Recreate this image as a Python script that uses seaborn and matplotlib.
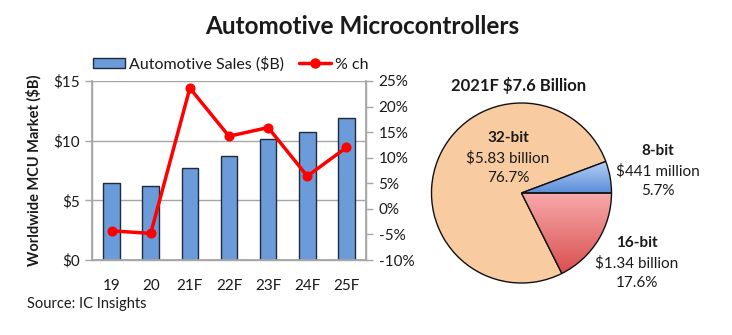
import matplotlib
matplotlib.use("Agg")
import matplotlib.pyplot as plt
import numpy as np
import pandas as pd
import seaborn as sns
from matplotlib.lines import Line2D
from matplotlib.patches import Patch

# ---- data ----
years = ["19", "20", "21F", "22F", "23F", "24F", "25F"]
sales_b = [6.48, 6.2, 7.68, 8.74, 10.1, 10.76, 11.93]
pct_change = [-4.3, -4.8, 23.6, 14.2, 15.9, 6.4, 12.0]

pie_labels = ["8-bit", "32-bit", "16-bit"]
pie_shares = [5.7, 76.7, 17.6]
pie_amounts = ["$441 million", "$5.83 billion", "$1.34 billion"]

left_ticks = [0, 5, 10, 15]
left_tick_labels = ["$0", "$5", "$10", "$15"]
right_ticks = [-10, -5, 0, 5, 10, 15, 20, 25]
right_tick_labels = ["-10%", "-5%", "0%", "5%", "10%", "15%", "20%", "25%"]

sns.set_theme(style="white")
plt.rcParams["font.family"] = ["Lato", "DejaVu Sans"]

W, H = 732, 335
fig = plt.figure(figsize=(W / 100, H / 100), dpi=100)
fig.patch.set_facecolor("white")

def fx(x):
    return x / W

def fy(y):
    return 1 - y / H

TXT = "#1a1a1a"
GRID = "#a6a6a6"

# ---- bar + line chart ----
ax = fig.add_axes([fx(92), fy(260), fx(366) - fx(92), fy(81) - fy(260)])
df = pd.DataFrame({"year": years, "sales": sales_b, "pct": pct_change})
sns.barplot(data=df, x="year", y="sales", ax=ax, color="#6b9bd8",
            edgecolor="#1f2a3a", linewidth=1.0, width=0.42, saturation=1)
ax.set_xlim(-0.5, 6.5)
ax.set_ylim(0, 15)
ax.set_yticks(left_ticks)
ax.set_yticklabels(left_tick_labels, fontsize=11, color=TXT)
ax.set_xticks(range(len(years)))
ax.set_xticklabels(years, fontsize=11, color=TXT)
ax.tick_params(axis="x", length=0, pad=14)
ax.tick_params(axis="y", length=5, color=GRID, width=1, direction="out", pad=4)
ax.set_xticks(np.arange(-0.5, 7.0, 1.0), minor=True)
ax.tick_params(axis="x", which="minor", length=4, color=GRID, width=1, direction="out")
ax.yaxis.grid(True, color=GRID, linewidth=1)
ax.set_axisbelow(True)
ax.spines["top"].set_visible(False)
for s in ["left", "bottom", "right"]:
    ax.spines[s].set_color(GRID)
    ax.spines[s].set_linewidth(1)
ax.set_xlabel("")
ax.set_ylabel("Worldwide MCU Market ($B)", fontsize=10.5, fontweight="bold",
              color=TXT, labelpad=8)

ax2 = ax.twinx()
sns.lineplot(x=np.arange(len(years)), y=df["pct"], ax=ax2, color="#ff0000",
             linewidth=2.5, marker="o", markersize=6.5, markeredgecolor="#ff0000")
ax2.set_ylim(-10, 25)
ax2.set_yticks(right_ticks)
ax2.set_yticklabels(right_tick_labels, fontsize=11, color=TXT)
ax2.tick_params(axis="y", length=5, color=GRID, width=1, direction="out", pad=4)
ax2.set_ylabel("")
ax2.spines["top"].set_visible(False)
for s in ["left", "bottom", "right"]:
    ax2.spines[s].set_color(GRID)
ax2.set_xlim(-0.5, 6.5)

handles = [Patch(facecolor="#6b9bd8", edgecolor="#1f2a3a", linewidth=1.0),
           Line2D([0], [0], color="#ff0000", linewidth=2.5, marker="o", markersize=6.5)]
fig.legend(handles, ["Automotive Sales ($B)", "% ch"], loc="center left",
           bbox_to_anchor=(fx(79), fy(64)), ncol=2, frameon=False, fontsize=11.5,
           handlelength=2.0, handleheight=0.6, handletextpad=0.2, columnspacing=1.0,
           labelcolor=TXT)

# ---- title & source ----
fig.text(fx(362), fy(26), "Automotive Microcontrollers", ha="center", va="center",
         fontsize=17.5, fontweight="bold", color=TXT)
fig.text(fx(27), fy(304), "Source: IC Insights", ha="left", va="center",
         fontsize=10.5, color=TXT)

# ---- pie ----
cx, cy, r = 521.5, 193, 90
pad = 1.05
pax = fig.add_axes([fx(cx - r * pad), fy(cy + r * pad), (2 * r * pad) / W, (2 * r * pad) / H])
colors = ["#8fb4ea", "#f9cba1", "#eb8d8f"]
wedges, _ = pax.pie(pie_shares, colors=colors, startangle=0, counterclock=True,
                    radius=1, wedgeprops=dict(edgecolor="#111111", linewidth=1.0))

def grad_fill(wedge, top, bottom):
    n = 256
    t = np.linspace(0, 1, n)[:, None]
    c_top = np.array(matplotlib.colors.to_rgb(top))
    c_bot = np.array(matplotlib.colors.to_rgb(bottom))
    img = (c_top * (1 - t)[:, :, None] + c_bot * t[:, :, None])
    img = np.repeat(img, 2, axis=1)
    bb = wedge.get_path().get_extents()
    z = wedge.get_zorder()
    im = pax.imshow(img, extent=[bb.x0, bb.x1, bb.y0, bb.y1], origin="upper",
                    aspect="auto", zorder=z)
    im.set_clip_path(wedge)
    wedge.set_facecolor("none")
    wedge.set_zorder(z + 0.1)

grad_fill(wedges[0], "#b7cff5", "#5a8fd9")
grad_fill(wedges[2], "#f8aaac", "#d9504f")
pax.set_xlim(-pad, pad)
pax.set_ylim(-pad, pad)
pax.set_aspect("auto")
pax.axis("off")

fig.text(fx(519), fy(85), "2021F $7.6 Billion", ha="center", va="center",
         fontsize=12, fontweight="bold", color=TXT)

def lbl(x, y0, name, amt, share):
    fig.text(fx(x), fy(y0), name, ha="center", va="center", fontsize=11,
             fontweight="bold", color=TXT)
    fig.text(fx(x), fy(y0 + 20), amt, ha="center", va="center", fontsize=11,
             color=TXT)
    fig.text(fx(x), fy(y0 + 40), f"{share}%", ha="center", va="center",
             fontsize=11, color=TXT)

lbl(508, 138, pie_labels[1], pie_amounts[1], pie_shares[1])
lbl(658, 151, pie_labels[0], pie_amounts[0], pie_shares[0])
lbl(637, 243, pie_labels[2], pie_amounts[2], pie_shares[2])

fig.savefig("out.png", dpi=100, facecolor="white")
